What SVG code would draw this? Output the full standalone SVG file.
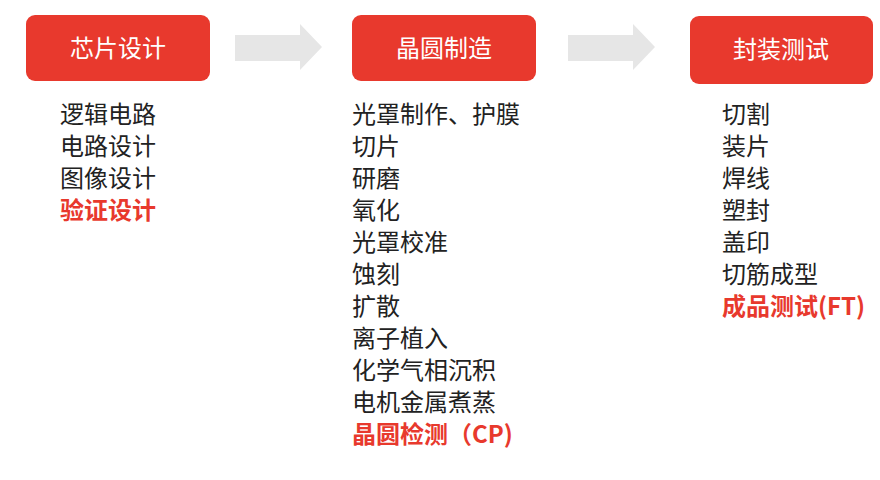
<svg xmlns="http://www.w3.org/2000/svg" width="880" height="480" viewBox="0 0 880 480">
<style>
.box{fill:#e8392d}
.t{font-family:"Noto Sans CJK SC",sans-serif;font-size:24px;fill:#ffffff;text-anchor:middle}
.l{font-family:"Noto Sans CJK SC",sans-serif;font-size:24px;fill:#222222}
.r{fill:#e8392d;font-weight:bold}
.ar{fill:#e6e6e6}
</style>
<rect width="880" height="480" fill="#ffffff"/>
<g id="connectors">
<polygon class="ar" points="235,35 300,35 300,24 322,47 300,70 300,61 235,61"/>
<polygon class="ar" points="568,35 633,35 633,24 655,47 633,70 633,61 568,61"/>
</g>
<g id="n1">
<rect class="box" x="26" y="15" width="184" height="66" rx="9"/>
<text class="t" x="118" y="57">芯片设计</text>
<text class="l" x="60" y="123">逻辑电路</text>
<text class="l" x="60" y="155">电路设计</text>
<text class="l" x="60" y="187">图像设计</text>
<text class="l r" x="60" y="219">验证设计</text>
</g>
<g id="n2">
<rect class="box" x="352" y="15" width="184" height="66" rx="9"/>
<text class="t" x="444" y="57">晶圆制造</text>
<text class="l" x="352" y="123">光罩制作、护膜</text>
<text class="l" x="352" y="155">切片</text>
<text class="l" x="352" y="187">研磨</text>
<text class="l" x="352" y="219">氧化</text>
<text class="l" x="352" y="251">光罩校准</text>
<text class="l" x="352" y="283">蚀刻</text>
<text class="l" x="352" y="315">扩散</text>
<text class="l" x="352" y="347">离子植入</text>
<text class="l" x="352" y="379">化学气相沉积</text>
<text class="l" x="352" y="411">电机金属煮蒸</text>
<text class="l r" x="352" y="443">晶圆检测（CP)</text>
</g>
<g id="n3">
<rect class="box" x="690" y="16" width="183" height="68" rx="9"/>
<text class="t" x="781" y="58">封装测试</text>
<text class="l" x="722" y="123">切割</text>
<text class="l" x="722" y="155">装片</text>
<text class="l" x="722" y="187">焊线</text>
<text class="l" x="722" y="219">塑封</text>
<text class="l" x="722" y="251">盖印</text>
<text class="l" x="722" y="283">切筋成型</text>
<text class="l r" x="722" y="315">成品测试(FT)</text>
</g>
</svg>
